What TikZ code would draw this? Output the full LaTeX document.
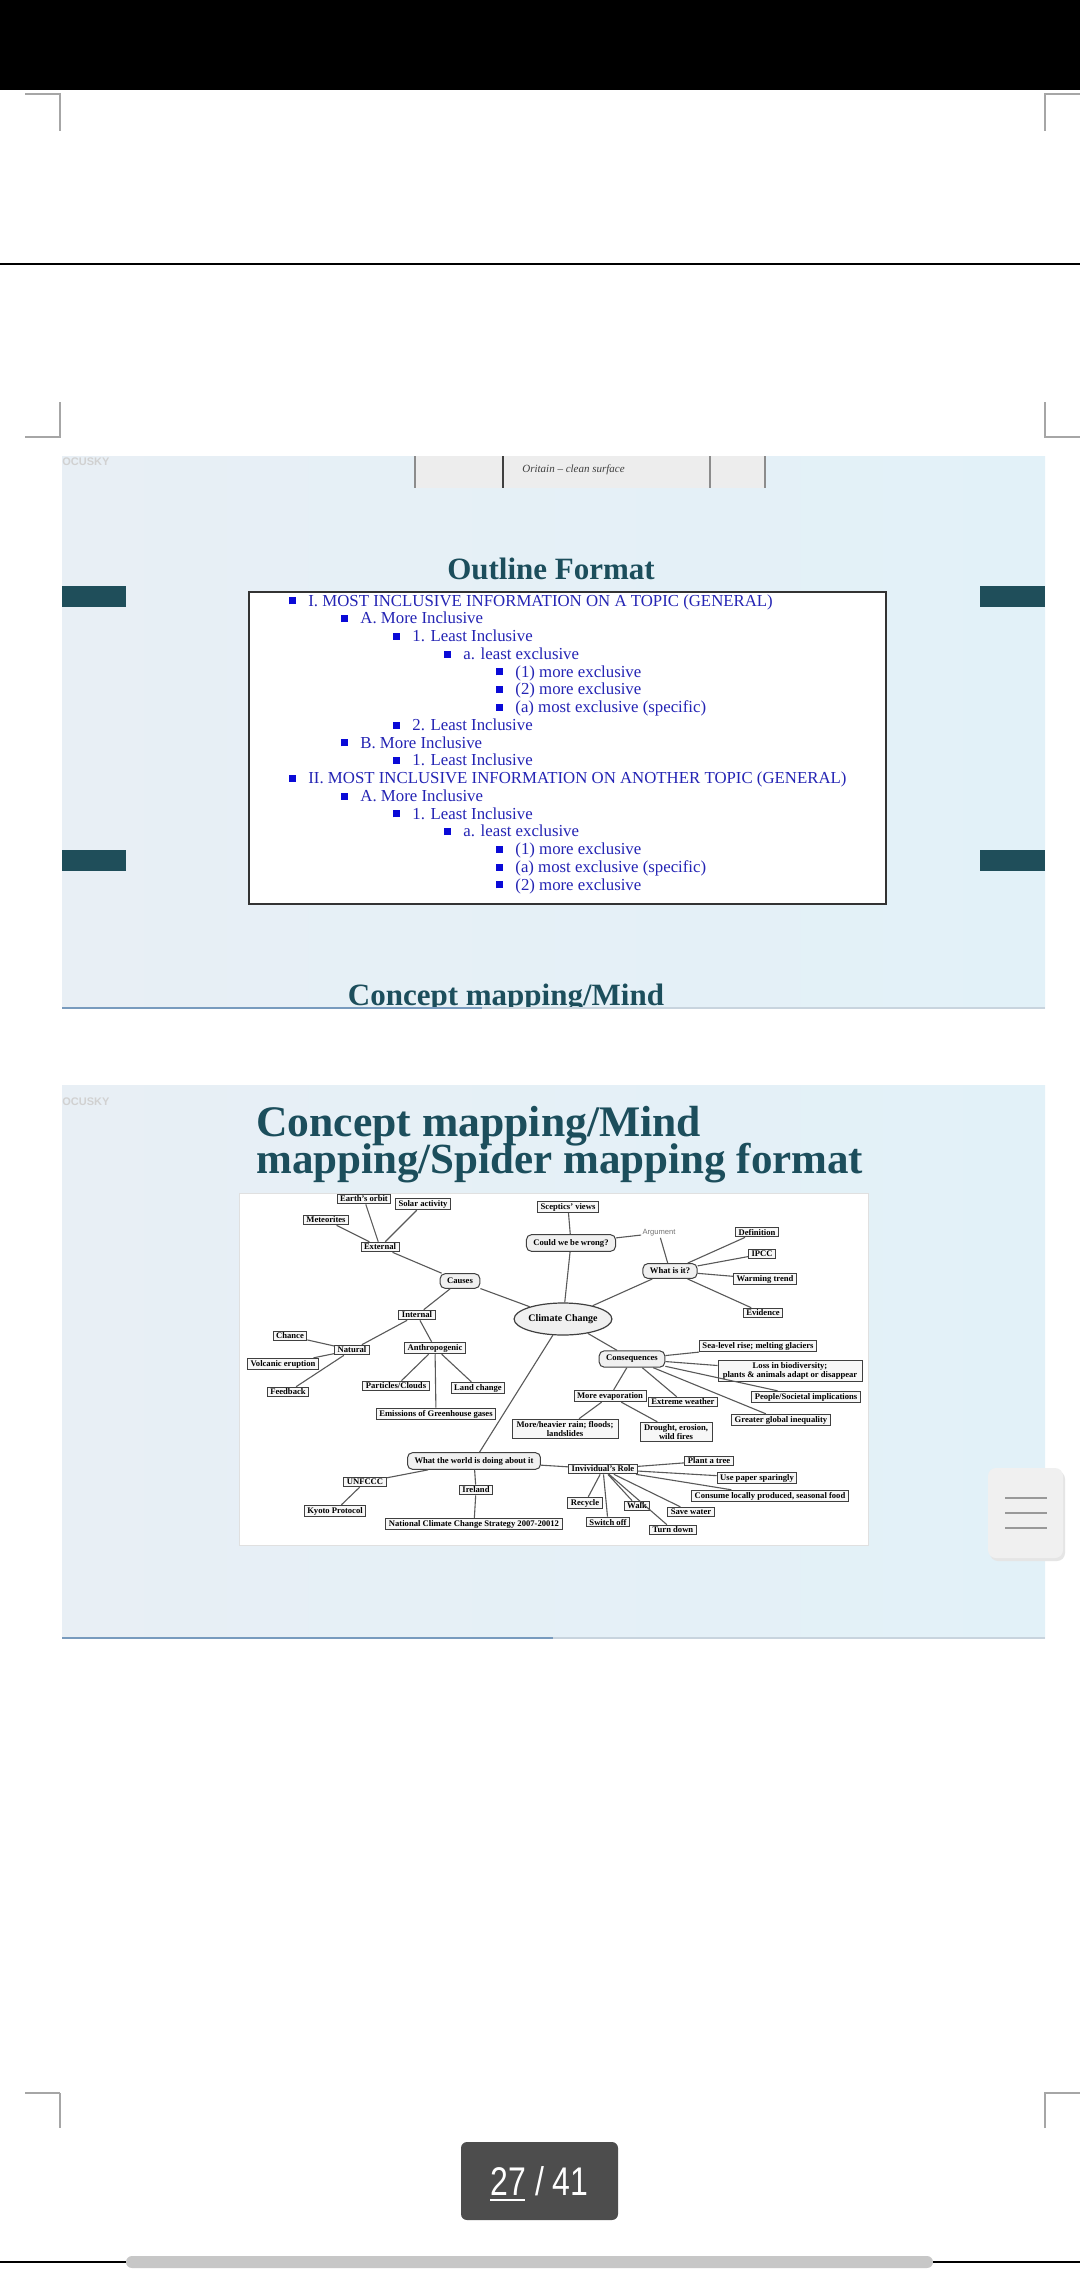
\documentclass[tikz,border=0pt]{standalone}
\usepackage{fontspec}
\setmainfont{Liberation Serif}
\newfontfamily\uifont{Liberation Sans}
\usetikzlibrary{positioning,shapes.geometric}

\definecolor{slidebgl}{RGB}{232,239,245}
\definecolor{slidebgr}{RGB}{226,241,248}
\definecolor{titleteal}{RGB}{28,78,92}
\definecolor{tealbar}{RGB}{31,78,90}
\definecolor{outblue}{RGB}{36,36,180}
\definecolor{bulblue}{RGB}{10,10,215}
\definecolor{lineblue}{RGB}{120,155,190}
\definecolor{linegray}{RGB}{200,212,222}
\definecolor{pagegray}{RGB}{77,77,77}

\newcommand{\bul}{\textcolor{bulblue}{\rule[0.8pt]{3.5pt}{3.5pt}}\hspace{6pt}}

\begin{document}
\begin{tikzpicture}
[
	              x = 0.5pt,
	              y = -0.5pt,
	     slide/.style = { left color=slidebgl, right color=slidebgr, draw=none },
	       bar/.style = { fill=tealbar, draw=none },
	cornermark/.style = { draw=black!35, line width=0.6pt },
	     title/.style = { anchor=base, inner sep=0pt, text=titleteal, font=\bfseries\fontsize{15.5}{18}\selectfont },
	      outl/.style = { anchor=base west, inner sep=0pt, text=outblue, font=\fontsize{8.4}{8.6}\selectfont },
	      cbox/.style = { draw=black!75, fill=gray!6, line width=0.5pt, inner xsep=1.5pt, inner ysep=0.9pt,
	                      align=center, font=\bfseries\fontsize{4.3}{4.9}\selectfont },
	      rbox/.style = { cbox, rounded corners=2.5pt, fill=gray!12, inner xsep=3.5pt, inner ysep=2.2pt },
	     medge/.style = { draw=black!65, line width=0.55pt }
]
	\useasboundingbox [fill=white] (0,0) rectangle (1080,2280);

	% screen frame
	\fill [black] (0,0) rectangle (1080,90);
	\draw [black, line width=1pt] (0,264) -- (1080,264);
	\draw [black, line width=0.8pt] (0,2262) -- (1080,2262);
	\draw [cornermark] (25,94) -- (60,94) -- (60,131);
	\draw [cornermark] (1080,94) -- (1045,94) -- (1045,131);
	\draw [cornermark] (60,402) -- (60,437) -- (25,437);
	\draw [cornermark] (1045,402) -- (1045,437) -- (1080,437);
	\draw [cornermark] (60,2093) -- (60,2128);
	\draw [cornermark] (25,2093) -- (60,2093);
	\draw [cornermark] (1045,2128) -- (1045,2093) -- (1080,2093);

	% slide with the outline
	\begin{scope}
		\clip (62,456) rectangle (1045,1008);
		\fill [slide] (62,456) rectangle (1045,1008);
		\fill [gray!14] (415,456) rectangle (765,488);
		\draw [black!45, line width=0.6pt] (415,456) -- (415,488) (765,456) -- (765,488) (710,456) -- (710,488);
		\draw [black!75, line width=0.7pt] (503,456) -- (503,488);
		\node (scrawl) at (522,472) [anchor=base west, inner sep=0pt, font=\itshape\fontsize{5.5}{6}\selectfont, text=black!75] {Oritain -- clean surface};
		\node (mark1) at (62,462) [anchor=west, inner sep=0pt, font=\uifont\bfseries\fontsize{5.5}{6}\selectfont, text=black!18] {OCUSKY};
		\node (next1) at (506,1005) [title] {Concept mapping/Mind};
	\end{scope}
	\draw [lineblue, line width=1pt] (62,1008) -- (482,1008);
	\draw [linegray, line width=1pt] (482,1008) -- (1045,1008);

	\node (otitle) at (551,579) [title] {Outline Format};
	\fill [bar] (62,586) rectangle (126,607);
	\fill [bar] (980,586) rectangle (1045,607);
	\fill [bar] (62,850) rectangle (126,871);
	\fill [bar] (980,850) rectangle (1045,871);
	\draw [black!80, fill=white, line width=0.6pt] (249,592) rectangle (886,904);

	\node (o1)  at (289,606)    [outl] {\bul I. MOST INCLUSIVE INFORMATION ON A TOPIC (GENERAL)};
	\node (o2)  at (341,623.75) [outl] {\bul A. More Inclusive};
	\node (o3)  at (393,641.5)  [outl] {\bul 1. Least Inclusive};
	\node (o4)  at (444,659.25) [outl] {\bul a. least exclusive};
	\node (o5)  at (496,677)    [outl] {\bul (1) more exclusive};
	\node (o6)  at (496,694.75) [outl] {\bul (2) more exclusive};
	\node (o7)  at (496,712.5)  [outl] {\bul (a) most exclusive (specific)};
	\node (o8)  at (393,730.25) [outl] {\bul 2. Least Inclusive};
	\node (o9)  at (341,748)    [outl] {\bul B. More Inclusive};
	\node (o10) at (393,765.75) [outl] {\bul 1. Least Inclusive};
	\node (o11) at (289,783.5)  [outl] {\bul II. MOST INCLUSIVE INFORMATION ON ANOTHER TOPIC (GENERAL)};
	\node (o12) at (341,801.25) [outl] {\bul A. More Inclusive};
	\node (o13) at (393,819)    [outl] {\bul 1. Least Inclusive};
	\node (o14) at (444,836.75) [outl] {\bul a. least exclusive};
	\node (o15) at (496,854.5)  [outl] {\bul (1) more exclusive};
	\node (o16) at (496,872.25) [outl] {\bul (a) most exclusive (specific)};
	\node (o17) at (496,890)    [outl] {\bul (2) more exclusive};

	% slide with the concept map
	\fill [slide] (62,1085) rectangle (1045,1638);
	\draw [lineblue, line width=1pt] (62,1638) -- (553,1638);
	\draw [linegray, line width=1pt] (553,1638) -- (1045,1638);
	\node (mark2) at (62,1102) [anchor=west, inner sep=0pt, font=\uifont\bfseries\fontsize{5.5}{6}\selectfont, text=black!18] {OCUSKY};
	\node (ctitle1) at (256,1136) [title, anchor=base west, font=\bfseries\fontsize{21.8}{24}\selectfont] {Concept mapping/Mind};
	\node (ctitle2) at (256,1173) [title, anchor=base west, font=\bfseries\fontsize{21.5}{24}\selectfont] {mapping/Spider mapping format};
	\draw [black!12, fill=white, line width=0.4pt] (239,1193) rectangle (868,1545);

	% causes branch
	\node (orbit)     at (364,1199) [cbox] {Earth's orbit};
	\node (solar)     at (423,1204) [cbox] {Solar activity};
	\node (meteor)    at (326,1220) [cbox] {Meteorites};
	\node (external)  at (380,1247) [cbox] {External};
	\node (causes)    at (460,1281) [rbox] {Causes};
	\node (internal)  at (417,1315) [cbox] {Internal};
	\node (chance)    at (290,1336) [cbox] {Chance};
	\node (natural)   at (352,1350) [cbox] {Natural};
	\node (volcano)   at (283,1364) [cbox] {Volcanic eruption};
	\node (feedback)  at (288,1392) [cbox] {Feedback};
	\node (anthro)    at (435,1348) [cbox] {Anthropogenic};
	\node (particles) at (396,1386) [cbox] {Particles/Clouds};
	\node (land)      at (478,1388) [cbox] {Land change};
	\node (emissions) at (436,1414) [cbox] {Emissions of Greenhouse gases};

	\draw [medge] (orbit) -- (external) (solar) -- (external) (meteor) -- (external);
	\draw [medge] (external) -- (causes) (causes) -- (internal);
	\draw [medge] (internal) -- (natural) (internal) -- (anthro);
	\draw [medge] (natural) -- (chance) (natural) -- (volcano) (natural) -- (feedback);
	\draw [medge] (anthro) -- (particles) (anthro) -- (land) (anthro) -- (emissions);

	% centre and what it is
	\node (climate)   at (563,1319) [ellipse, draw=black!75, fill=gray!12, line width=0.6pt, inner sep=0pt,
	                                 minimum width=43pt, minimum height=16pt, font=\bfseries\fontsize{5}{6}\selectfont] {Climate Change};
	\node (sceptic)   at (568,1207) [cbox] {Sceptics' views};
	\node (wrong)     at (571,1243) [rbox] {Could we be wrong?};
	\node (argument)  at (659,1233) [inner sep=0.5pt, text=black!55, font=\uifont\fontsize{3.8}{4}\selectfont] {Argument};
	\node (whatis)    at (670,1271) [rbox] {What is it?};
	\node (definition) at (757,1232) [cbox] {Definition};
	\node (ipcc)      at (762,1254) [cbox] {IPCC};
	\node (warming)   at (765,1279) [cbox] {Warming trend};
	\node (evidence)  at (763,1313) [cbox] {Evidence};

	\draw [medge] (causes) -- (climate) (sceptic) -- (wrong) (wrong) -- (climate);
	\draw [medge] (wrong) -- (argument) (argument) -- (whatis) (whatis) -- (climate);
	\draw [medge] (whatis) -- (definition) (whatis) -- (ipcc) (whatis) -- (warming) (whatis) -- (evidence);

	% consequences
	\node (conseq)    at (632,1359) [rbox] {Consequences};
	\node (sealevel)  at (758,1346) [cbox] {Sea-level rise; melting glaciers};
	\node (biodiv)    at (790,1371) [cbox, minimum width=72pt] {Loss in biodiversity;\\plants \& animals adapt or disappear};
	\node (societal)  at (806,1397) [cbox] {People/Societal implications};
	\node (inequality) at (781,1420) [cbox] {Greater global inequality};
	\node (evap)      at (610,1396) [cbox] {More evaporation};
	\node (extreme)   at (683,1402) [cbox] {Extreme weather};
	\node (rain)      at (565,1429) [cbox, minimum width=53pt] {More/heavier rain; floods;\\landslides};
	\node (drought)   at (676,1432) [cbox, minimum width=36pt] {Drought, erosion,\\wild fires};

	\draw [medge] (climate) -- (conseq);
	\draw [medge] (conseq) -- (sealevel) (conseq) -- (biodiv) (conseq) -- (societal) (conseq) -- (inequality);
	\draw [medge] (conseq) -- (extreme) (conseq) -- (evap) (evap) -- (rain) (evap) -- (drought);

	% what the world is doing
	\node (world)     at (474,1461) [rbox] {What the world is doing about it};
	\node (unfccc)    at (365,1482) [cbox] {UNFCCC};
	\node (kyoto)     at (335,1511) [cbox] {Kyoto Protocol};
	\node (ireland)   at (476,1490) [cbox] {Ireland};
	\node (strategy)  at (474,1524) [cbox] {National Climate Change Strategy 2007-20012};
	\node (role)      at (603,1469) [cbox] {Invividual's Role};
	\node (tree)      at (709,1461) [cbox] {Plant a tree};
	\node (paper)     at (757,1478) [cbox] {Use paper sparingly};
	\node (consume)   at (770,1496) [cbox] {Consume locally produced, seasonal food};
	\node (recycle)   at (585,1503) [cbox] {Recycle};
	\node (switchoff) at (608,1522) [cbox] {Switch off};
	\node (walk)      at (637,1506) [cbox] {Walk};
	\node (savewater) at (691,1512) [cbox] {Save water};
	\node (turndown)  at (673,1530) [cbox] {Turn down};

	\draw [medge] (climate) -- (world) (world) -- (unfccc) (unfccc) -- (kyoto);
	\draw [medge] (world) -- (ireland) (ireland) -- (strategy) (world) -- (role);
	\draw [medge] (role) -- (tree) (role) -- (paper) (role) -- (consume);
	\draw [medge] (role) -- (recycle) (role) -- (switchoff) (role) -- (walk) (role) -- (savewater) (role) -- (turndown);

	% side tab
	\fill [black!10, rounded corners=4pt] (990,1471) rectangle (1065,1561);
	\fill [gray!12, rounded corners=4pt] (988,1468) rectangle (1063,1558);
	\draw [black!40, line width=1pt] (1005,1498) -- (1047,1498) (1005,1513) -- (1047,1513) (1005,1528) -- (1047,1528);

	% page counter
	\node (counter) at (539.5,2181) [fill=pagegray, rounded corners=3pt, minimum width=78.5pt, minimum height=39pt,
	                                 text=white, font=\uifont\fontsize{20}{22}\selectfont] {\scalebox{0.8}[1]{27 / 41}};
	\draw [white, line width=1pt] (490,2200) -- (525,2200);
	\fill [black!22, rounded corners=3pt] (126,2256) rectangle (933,2268);
\end{tikzpicture}
\end{document}
